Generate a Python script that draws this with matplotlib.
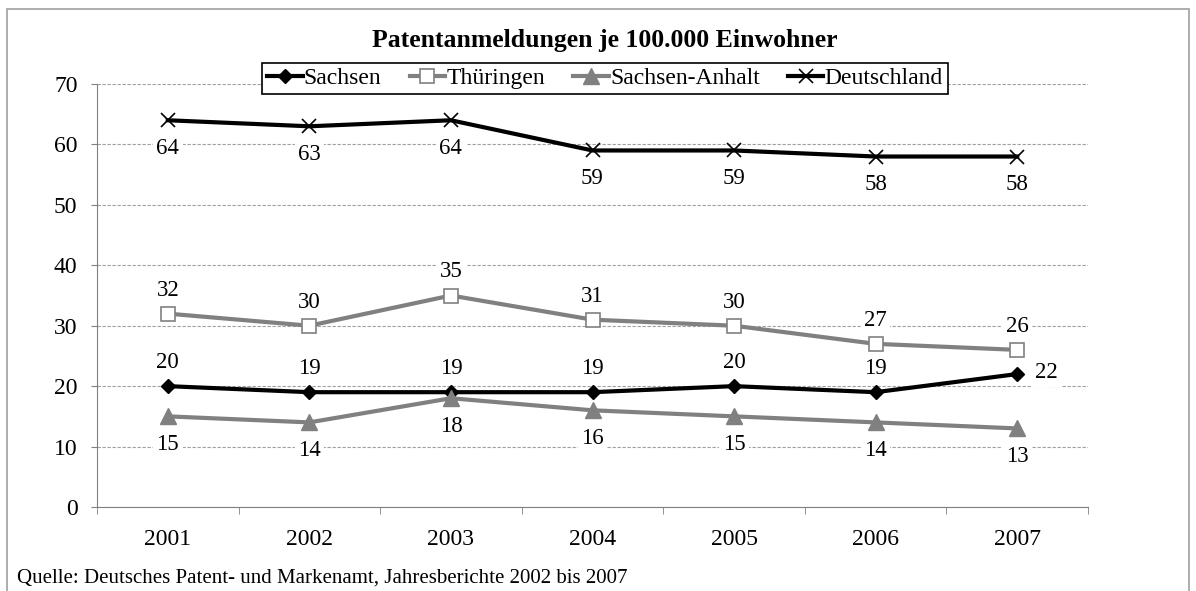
import matplotlib.pyplot as plt
from matplotlib.patches import Rectangle

years = ['2001', '2002', '2003', '2004', '2005', '2006', '2007']
sachsen = [20, 19, 19, 19, 20, 19, 22]
thueringen = [32, 30, 35, 31, 30, 27, 26]
sachsen_anhalt = [15, 14, 18, 16, 15, 14, 13]
deutschland = [64, 63, 64, 59, 59, 58, 58]

plt.rcParams['font.family'] = ['Liberation Serif', 'DejaVu Serif']

fig = plt.figure(figsize=(11.96, 5.91), dpi=100)
ax = fig.add_axes([97 / 1196, (591 - 507) / 591, 991 / 1196, 423 / 591])

fig.patches.append(Rectangle((7 / 1196, -0.05), 1182 / 1196, 1.05 - 9 / 591,
                             transform=fig.transFigure, fill=False,
                             edgecolor='#a0a0a0', lw=1.2))

x = list(range(len(years)))
gray = '#808080'
ax.plot(x, sachsen, color='black', lw=3, marker='D', ms=7, label='Sachsen', zorder=4)
ax.plot(x, thueringen, color=gray, lw=3, marker='s', ms=10, mfc='white', mec=gray,
        mew=1.2, label='Thüringen', zorder=4)
ax.plot(x, sachsen_anhalt, color=gray, lw=3, marker='^', ms=11, label='Sachsen-Anhalt', zorder=4)
ax.plot(x, deutschland, color='black', lw=3, marker='x', ms=10, mew=1.2, label='Deutschland', zorder=4)

bbox = dict(boxstyle='square,pad=0.15', fc='white', ec='none')
fs = 16.5
for i in x:
    ax.annotate(str(sachsen[i]), (i, sachsen[i]),
                xytext=(21, 1) if i == 6 else (0, 17), textcoords='offset points',
                ha='center', va='center', fontsize=fs, bbox=bbox, zorder=3)
    ax.annotate(str(thueringen[i]), (i, thueringen[i]), xytext=(0, 17),
                textcoords='offset points', ha='center', va='center', fontsize=fs,
                bbox=bbox, zorder=3)
    ax.annotate(str(sachsen_anhalt[i]), (i, sachsen_anhalt[i]), xytext=(0, -20),
                textcoords='offset points', ha='center', va='center', fontsize=fs,
                bbox=bbox, zorder=3)
    ax.annotate(str(deutschland[i]), (i, deutschland[i]), xytext=(0, -20),
                textcoords='offset points', ha='center', va='center', fontsize=fs,
                bbox=bbox, zorder=3)

ax.set_xlim(-0.5, 6.5)
ax.set_ylim(0, 70)
ax.set_yticks(range(0, 71, 10))
ax.set_xticks(x)
ax.set_xticklabels(years)
ax.set_xticks([i - 0.5 for i in range(8)], minor=True)
ax.tick_params(axis='x', which='major', length=0, pad=16, labelsize=17)
ax.tick_params(axis='x', which='minor', length=5, color=gray)
ax.tick_params(axis='y', length=4, color=gray, labelsize=17, pad=10)
ax.grid(axis='y', color='#a0a0a0', ls=(0, (3, 1.5)), lw=0.8)
ax.set_axisbelow(True)
for s in ['top', 'right']:
    ax.spines[s].set_visible(False)
for s in ['left', 'bottom']:
    ax.spines[s].set_color(gray)

leg = ax.legend(loc='center', bbox_to_anchor=(605 / 1196, 1 - 78.5 / 591),
                bbox_transform=fig.transFigure, ncol=4, fontsize=17, frameon=True,
                fancybox=False, edgecolor='black', framealpha=1, handlelength=1.5,
                handletextpad=0.05, columnspacing=1.2, borderpad=0.2)
leg.get_frame().set_linewidth(1.2)

fig.text(605 / 1196, 1 - 40 / 591, 'Patentanmeldungen je 100.000 Einwohner',
         ha='center', va='center', fontsize=18.5, fontweight='bold')
fig.text(17 / 1196, 1 - 578 / 591,
         'Quelle: Deutsches Patent- und Markenamt, Jahresberichte 2002 bis 2007',
         ha='left', va='center', fontsize=15)

fig.savefig('out.png', dpi=100)
